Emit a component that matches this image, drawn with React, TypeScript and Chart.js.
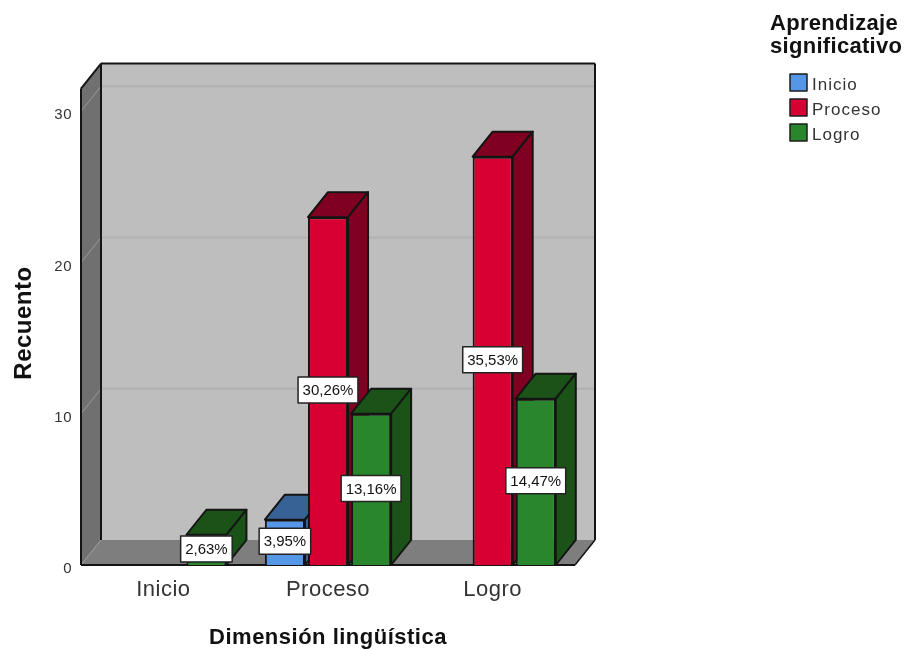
import React, { useEffect, useRef } from "react";
import { Chart, registerables } from "chart.js";

Chart.register(...registerables);

const categories = ["Inicio", "Proceso", "Logro"];
const seriesNames = ["Inicio", "Proceso", "Logro"];
const inicioValues = [null, 3, null];
const procesoValues = [null, 23, 27];
const logroValues = [2, 10, 11];
const inicioLabels = [null, "3,95%", null];
const procesoLabels = [null, "30,26%", "35,53%"];
const logroLabels = ["2,63%", "13,16%", "14,47%"];
const legendTitle = ["Aprendizaje", "significativo"];
const xTitle = "Dimensión lingüística";
const yTitle = "Recuento";
const yTicks = [0, 10, 20, 30];

const FRONT = ["#5596e6", "#d60033", "#29862c"];
const SIDE = ["#376296", "#7f0021", "#1a5218"];
const LINE = "#141414";
const FONT = "'Liberation Sans', Arial, sans-serif";
const DX = 20;
const DY = -25;
const labelSets = [inicioLabels, procesoLabels, logroLabels];

function poly(ctx: any, pts: number[][], fill: string | null, stroke: string | null, lw = 2) {
  ctx.beginPath();
  pts.forEach((p, i) => (i ? ctx.lineTo(p[0], p[1]) : ctx.moveTo(p[0], p[1])));
  ctx.closePath();
  if (fill) {
    ctx.fillStyle = fill;
    ctx.fill();
  }
  if (stroke) {
    ctx.strokeStyle = stroke;
    ctx.lineWidth = lw;
    ctx.lineJoin = "round";
    ctx.stroke();
  }
}

function seg(ctx: any, a: number[], b: number[], color: string, lw: number) {
  ctx.beginPath();
  ctx.moveTo(a[0], a[1]);
  ctx.lineTo(b[0], b[1]);
  ctx.strokeStyle = color;
  ctx.lineWidth = lw;
  ctx.stroke();
}

const scene3d = {
  id: "scene3d",
  beforeDraw(chart: any) {
    chart.ctx.letterSpacing = "0.5px";
  },
  beforeDatasetsDraw(chart: any) {
    const { ctx, chartArea, scales } = chart;
    const y = scales.y;
    const L = chartArea.left;
    const R = chartArea.right;
    const B = chartArea.bottom;
    const T = y.getPixelForValue(31.5);
    ctx.save();
    // back wall, side wall, floor
    poly(ctx, [[L + DX, T + DY], [R + DX, T + DY], [R + DX, B + DY], [L + DX, B + DY]], "#bebebe", null);
    poly(ctx, [[L, T], [L + DX, T + DY], [L + DX, B + DY], [L, B]], "#707070", null);
    poly(ctx, [[L, B], [L + DX, B + DY], [R + DX, B + DY], [R, B]], "#7e7e7e", null);
    // gridlines
    yTicks.forEach((v) => {
      const py = y.getPixelForValue(v);
      if (v > 0) seg(ctx, [L + DX, py + DY], [R + DX, py + DY], "#b1b1b1", 2);
      seg(ctx, [L, py], [L + DX, py + DY], "#9a9a9a", 1);
    });
    // frame
    seg(ctx, [L + DX, T + DY], [R + DX, T + DY], LINE, 2);
    seg(ctx, [L + DX, T + DY], [L + DX, B + DY], LINE, 2);
    seg(ctx, [R + DX, T + DY], [R + DX, B + DY], LINE, 2);
    seg(ctx, [L, T], [L + DX, T + DY], LINE, 2);
    seg(ctx, [L, T], [L, B], LINE, 2);
    seg(ctx, [L, B], [R, B], LINE, 2);
    seg(ctx, [R, B], [R + DX, B + DY], LINE, 1.5);

    // bars, painted left to right so that depth faces overlap correctly
    chart.data.datasets.forEach((_: any, i: number) => {
      const meta = chart.getDatasetMeta(i);
      meta.data.forEach((bar: any, j: number) => {
        if (chart.data.datasets[i].data[j] == null) return;
        const l = bar.x - bar.width / 2;
        const r = bar.x + bar.width / 2;
        const t = bar.y;
        const b = bar.base;
        poly(ctx, [[l, t], [l + DX, t + DY], [r + DX, t + DY], [r, t]], SIDE[i], LINE);
        poly(ctx, [[r, t], [r + DX, t + DY], [r + DX, b + DY], [r, b]], SIDE[i], LINE);
      });
      meta.controller.draw();
    });

    // percentage boxes
    ctx.font = `15px ${FONT}`;
    ctx.letterSpacing = "0px";
    ctx.textAlign = "center";
    ctx.textBaseline = "middle";
    chart.data.datasets.forEach((_: any, i: number) => {
      const meta = chart.getDatasetMeta(i);
      meta.data.forEach((bar: any, j: number) => {
        const text = labelSets[i][j];
        if (!text) return;
        const w = ctx.measureText(text).width + 9;
        const h = 26;
        const cy = (bar.y + bar.base) / 2 - 1;
        ctx.fillStyle = "#ffffff";
        ctx.strokeStyle = "#222222";
        ctx.lineWidth = 1.5;
        ctx.fillRect(bar.x - w / 2, cy - h / 2, w, h);
        ctx.strokeRect(bar.x - w / 2, cy - h / 2, w, h);
        ctx.fillStyle = "#111111";
        ctx.fillText(text, bar.x, cy + 1);
      });
    });

    // legend
    ctx.textAlign = "left";
    ctx.textBaseline = "alphabetic";
    ctx.fillStyle = "#111111";
    ctx.font = `bold 22px ${FONT}`;
    ctx.letterSpacing = "0.3px";
    legendTitle.forEach((line, i) => ctx.fillText(line, 770, 30 + i * 23));
    ctx.font = `17px ${FONT}`;
    ctx.letterSpacing = "1px";
    seriesNames.forEach((name, i) => {
      const yy = 74 + i * 25;
      ctx.fillStyle = FRONT[i];
      ctx.fillRect(790, yy, 17, 17);
      ctx.strokeStyle = "#1c1c1c";
      ctx.lineWidth = 1.5;
      ctx.strokeRect(790, yy, 17, 17);
      ctx.fillStyle = "#333333";
      ctx.fillText(name, 812, yy + 16);
    });
    ctx.restore();
    return false;
  },
  afterDraw(chart: any) {
    chart.ctx.letterSpacing = "0px";
  },
};

export default function App() {
  const ref = useRef<HTMLCanvasElement>(null);
  useEffect(() => {
    const chart = new Chart(ref.current as any, {
      type: "bar",
      data: {
        labels: categories,
        datasets: [
          { label: seriesNames[0], data: inicioValues, backgroundColor: FRONT[0], borderColor: LINE, borderWidth: 2 },
          { label: seriesNames[1], data: procesoValues, backgroundColor: FRONT[1], borderColor: LINE, borderWidth: 2 },
          { label: seriesNames[2], data: logroValues, backgroundColor: FRONT[2], borderColor: LINE, borderWidth: 2 },
        ],
      } as any,
      options: {
        responsive: false,
        animation: false,
        devicePixelRatio: 1,
        layout: { padding: { left: 0, top: 81, right: 333, bottom: 0 } },
        datasets: { bar: { categoryPercentage: 0.785, barPercentage: 0.93 } },
        plugins: { legend: { display: false }, tooltip: { enabled: false }, title: { display: false } },
        scales: {
          x: {
            grid: { display: false, drawTicks: false },
            border: { display: false },
            ticks: { color: "#333333", font: { family: FONT, size: 22 }, padding: 12, maxRotation: 0 },
            title: { display: true, text: xTitle, color: "#111111", font: { family: FONT, size: 22, weight: "bold" }, padding: { top: 0, bottom: -1 } },
            afterFit: (s: any) => { s.height = 85; },
          },
          y: {
            min: 0,
            max: 32,
            grid: { display: false, drawTicks: false },
            border: { display: false },
            ticks: { stepSize: 10, includeBounds: false, color: "#333333", font: { family: FONT, size: 15 }, padding: 9, labelOffset: 4 },
            title: { display: true, text: yTitle, color: "#111111", font: { family: FONT, size: 24, weight: "bold" }, padding: { top: 10, bottom: 0 } },
            afterFit: (s: any) => { s.width = 81; },
          },
        },
      } as any,
      plugins: [scene3d as any],
    });
    return () => chart.destroy();
  }, []);
  return (
    <div style={{ position: "absolute", left: 0, top: 0, width: 908, height: 650, background: "#ffffff" }}>
      <canvas ref={ref} width={908} height={650} style={{ display: "block" }} />
    </div>
  );
}
